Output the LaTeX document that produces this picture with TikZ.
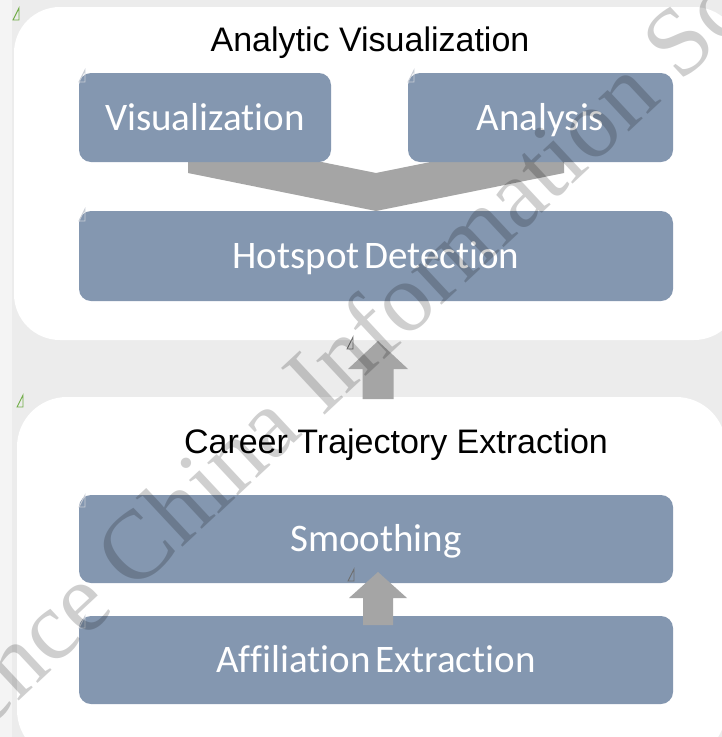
\documentclass[tikz,border=0pt]{standalone}
\usepackage{fontspec}
\setmainfont{Liberation Sans}
\newfontfamily\boxfont[Ligatures={NoCommon,NoContextual},WordSpace=0.55]{Carlito}
\newfontfamily\wmfont{Liberation Serif}
\usetikzlibrary{calc}
\definecolor{bgcol}{HTML}{ECECEC}
\definecolor{boxblue}{HTML}{8497B0}
\definecolor{arrowgray}{HTML}{A5A5A5}
\definecolor{markgreen}{HTML}{70AD47}
\definecolor{marklight}{HTML}{C9CED6}
\definecolor{markdark}{HTML}{6E6E6E}
\newcommand{\smalltri}[3]{%
  \draw[#3, line width=0.9pt, line join=miter] (#1,#2+12) -- (#1+6,#2+12) -- (#1+6,#2) -- cycle;}
\begin{document}
\begin{tikzpicture}[x=1pt,y=-1pt,
  panel/.style={fill=white, draw=none, rounded corners=46pt},
  bluebox/.style={fill=boxblue, draw=none, rounded corners=12pt, inner sep=0pt,
    text=white, font=\boxfont\fontsize{39}{42}\selectfont,
    text height=25pt, text depth=0pt},
  paneltitle/.style={inner sep=0pt, anchor=base, text=black,
    font=\fontsize{34}{38}\selectfont},
  bigarrow/.style={fill=arrowgray, draw=none},
  wmark/.style={inner sep=0pt, text=black, text opacity=0.19,
    font=\wmfont\fontsize{97.5}{100}\selectfont}]
\useasboundingbox (0,0) rectangle (722,737);
\fill[bgcol] (0,0) rectangle (722,737);
\fill[white!40!bgcol] (0,0) rectangle (12,737);
% panels
\fill[panel] (14,7) rectangle (740,340);
\fill[panel, rounded corners=50pt] (17,397) rectangle (726,760);
% panel titles
\node[paneltitle] (t1) at (370,51) {Analytic Visualization};
\node[paneltitle] (t2) at (396,453) {Career Trajectory Extraction};
% chevron (behind the boxes)
\coordinate (chtip) at (376,211);
\fill[bigarrow] (chtip) -- ($(chtip)+(-188,-38)$) -- ($(chtip)+(-188,-76)$)
  -- ($(chtip)+(0,-38)$) -- ($(chtip)+(188,-76)$) -- ($(chtip)+(188,-38)$) -- cycle;
% boxes
\node[bluebox, minimum width=252pt, minimum height=89pt] (vis) at (205,117.5) {Visualization};
\node[bluebox, minimum width=265pt, minimum height=89pt] (ana) at (540.5,117.5) {Analysis};
\node[bluebox, minimum width=594pt, minimum height=90pt] (hot) at (376,256) {Hotspot Detection};
\node[bluebox, minimum width=594pt, minimum height=88pt] (smo) at (376,539) {Smoothing};
\node[bluebox, minimum width=594pt, minimum height=88pt] (aff) at (376,660) {Affiliation Extraction};
% up arrows
\coordinate (a1tip) at (378,341);
\coordinate (a1base) at (378,399);
\fill[bigarrow] (a1tip) -- ($(a1tip)+(30,28)$) -- ($(a1tip)+(15.5,28)$)
  -- ($(a1base)+(15.5,0)$) -- ($(a1base)+(-15.5,0)$) -- ($(a1tip)+(-15.5,28)$)
  -- ($(a1tip)+(-30,28)$) -- cycle;
\coordinate (a2tip) at (378,572);
\coordinate (a2base) at (378,625);
\fill[bigarrow] (a2tip) -- ($(a2tip)+(29,26)$) -- ($(a2tip)+(15,26)$)
  -- ($(a2base)+(15,0)$) -- ($(a2base)+(-15,0)$) -- ($(a2tip)+(-15,26)$)
  -- ($(a2tip)+(-29,26)$) -- cycle;
% small marks
\smalltri{13}{8}{markgreen}
\smalltri{17}{395}{markgreen}
\smalltri{79}{70}{marklight}
\smalltri{408}{70}{marklight}
\smalltri{79}{209}{marklight}
\smalltri{79}{495}{marklight}
\smalltri{79}{616}{marklight}
\smalltri{347}{337}{markdark}
\smalltri{348}{569}{markdark}
% watermark
\node[wmark, rotate=43] (wm) at (389,309) {Science China Information Sciences};
\end{tikzpicture}
\end{document}
